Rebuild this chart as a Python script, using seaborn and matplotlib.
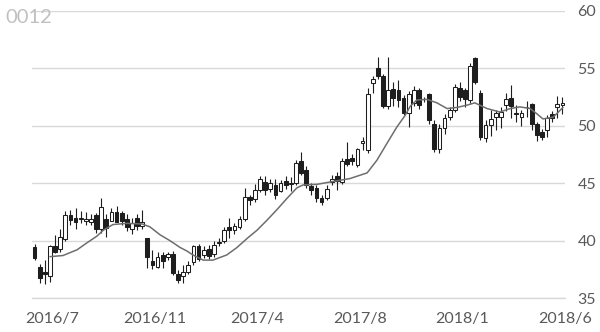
import matplotlib
matplotlib.use("Agg")
import matplotlib.pyplot as plt
import seaborn as sns
import pandas as pd
import numpy as np

title = "0012"
date_labels = ["2016/7", "2016/11", "2017/4", "2017/8", "2018/1", "2018/6"]
y_ticks = [35, 40, 45, 50, 55, 60]

opens = [39.4, 37.7, 37.3, 36.9, 39.5, 39.3, 40.1, 42.2, 42.0, 41.9,
         41.7, 41.6, 42.2, 41.0, 41.9, 41.7, 42.5, 42.4, 41.9, 41.0,
         42.0, 41.3, 40.2, 38.2, 37.7, 38.75, 38.6, 38.8, 37.1, 36.9,
         37.3, 38.1, 39.5, 38.75, 39.3, 38.8, 39.8, 40.0, 41.2, 40.9,
         41.2, 41.9, 43.8, 43.6, 44.4, 45.1, 44.5, 44.85, 44.35, 45.2,
         44.9, 45.0, 46.9, 46.15, 44.75, 44.55, 43.7, 43.7, 45.1, 45.6,
         45.1, 47.1, 47.2, 46.6, 48.5, 47.9, 53.7, 55.0, 54.3, 51.7,
         53.2, 53.1, 52.4, 51.1, 52.0, 53.1, 52.3, 52.8, 50.2, 48.0,
         49.8, 50.8, 51.4, 53.3, 53.1, 52.25, 55.9, 52.9, 48.9, 50.1,
         50.8, 50.8, 51.8, 52.4, 51.1, 50.8, 51.65, 51.9, 50.2, 49.5,
         49.6, 51.0, 51.6, 51.8]
closes = [38.5, 36.7, 37.1, 39.5, 39.0, 40.3, 42.2, 41.8, 41.6, 42.0,
          41.9, 41.9, 41.0, 42.9, 41.1, 42.5, 41.65, 41.7, 41.2, 41.5,
          41.3, 41.6, 38.6, 37.9, 38.6, 38.25, 38.8, 37.2, 36.6, 37.3,
          37.9, 39.5, 38.4, 39.2, 38.7, 39.6, 39.85, 40.9, 40.9, 41.3,
          41.9, 43.8, 43.5, 44.4, 45.4, 44.4, 45.0, 44.0, 45.05, 44.8,
          45.0, 46.8, 45.9, 44.85, 44.4, 43.7, 43.4, 44.5, 45.4, 45.2,
          46.9, 46.7, 46.9, 47.95, 48.7, 52.8, 54.1, 54.3, 51.7, 53.1,
          52.4, 52.25, 51.1, 52.8, 53.1, 51.8, 52.3, 50.5, 48.0, 49.8,
          50.65, 51.4, 53.4, 52.5, 52.3, 55.2, 53.8, 49.0, 50.05, 50.6,
          51.1, 51.2, 52.3, 51.7, 51.0, 51.1, 51.6, 50.2, 49.2, 49.05,
          50.65, 50.65, 51.9, 52.0]
highs = [39.7, 38.0, 38.3, 39.6, 40.5, 41.0, 42.6, 42.7, 42.8, 42.6,
         42.5, 42.3, 42.4, 43.7, 42.3, 42.8, 43.0, 42.6, 42.3, 42.0,
         42.3, 42.7, 40.2, 39.2, 39.0, 39.0, 39.0, 39.1, 37.4, 37.9,
         38.2, 39.6, 39.7, 39.5, 39.6, 40.0, 40.2, 41.2, 42.0, 41.5,
         42.1, 44.6, 44.0, 44.9, 45.6, 45.6, 45.4, 45.4, 45.3, 45.6,
         45.5, 47.0, 47.7, 46.5, 45.0, 44.8, 44.0, 44.8, 45.7, 46.0,
         47.2, 48.6, 47.5, 48.1, 49.0, 53.3, 54.3, 56.0, 54.5, 56.0,
         53.8, 54.0, 52.7, 53.0, 53.5, 53.3, 52.5, 52.9, 50.5, 50.2,
         51.0, 51.6, 53.6, 53.8, 53.3, 55.5, 56.0, 53.1, 50.5, 51.4,
         51.4, 51.6, 52.9, 53.55, 51.8, 51.4, 52.2, 52.0, 50.3, 49.7,
         50.9, 51.3, 52.6, 52.5]
lows = [38.3, 36.3, 36.2, 36.4, 38.9, 39.0, 40.0, 41.4, 41.0, 41.5,
        41.4, 41.4, 40.7, 40.7, 40.3, 41.9, 41.6, 41.4, 40.8, 40.6,
        40.9, 41.0, 37.6, 37.5, 37.6, 37.6, 38.3, 37.0, 36.3, 36.3,
        37.1, 37.9, 38.2, 38.5, 38.4, 38.6, 39.5, 39.8, 40.2, 40.6,
        41.0, 41.7, 43.1, 43.4, 44.2, 44.0, 44.2, 43.6, 44.2, 44.5,
        44.3, 44.8, 45.7, 44.6, 44.0, 43.4, 43.1, 43.5, 44.8, 44.4,
        44.9, 46.5, 46.6, 46.4, 47.9, 47.6, 52.9, 54.1, 51.55, 51.5,
        51.7, 51.6, 50.9, 49.9, 51.7, 51.5, 52.1, 50.2, 47.7, 47.6,
        49.3, 50.5, 51.2, 52.2, 51.6, 52.0, 53.6, 48.8, 48.6, 49.1,
        49.6, 49.8, 51.3, 50.7, 50.3, 50.0, 50.8, 49.6, 48.7, 48.8,
        49.0, 50.3, 50.7, 51.0]

# moving-average line (position in weeks, price)
ma_x = [3.0, 5.55, 8.3, 10.2, 12.2, 13.4, 15.3, 18.0, 21.0, 22.5, 24.5, 26.4,
        28.4, 29.7, 30.9, 32.9, 34.8, 37.5, 39.5, 41.5, 43.4, 45.4, 47.3, 49.3,
        51.2, 52.4, 55.1, 57.6, 60.2, 61.5, 64.9, 66.8, 68.8, 70.7, 72.3, 73.3,
        74.6, 76.6, 78.5, 80.5, 82.4, 84.4, 85.9, 88.3, 90.8, 92.8, 94.7, 96.7,
        98.0, 99.2, 101.2, 103.1]
ma_v = [38.6, 38.7, 39.2, 39.8, 40.4, 40.9, 41.4, 41.5, 41.45, 41.2, 40.5, 40.0,
        39.4, 39.1, 38.75, 38.3, 38.3, 38.75, 39.4, 40.2, 40.9, 41.8, 42.7, 43.7,
        44.6, 44.85, 44.9, 45.1, 45.3, 45.4, 45.9, 47.0, 48.5, 49.9, 50.9, 51.7,
        52.25, 52.3, 52.0, 51.5, 51.6, 51.8, 52.0, 51.5, 51.2, 51.5, 51.65, 51.5,
        51.05, 50.6, 50.75, 51.6]

sns.set_theme(style="white")
plt.rcParams['font.family'] = ['Lato', 'DejaVu Sans']

df = pd.DataFrame({"open": opens, "high": highs, "low": lows, "close": closes})
df["x"] = np.arange(len(df))
n = len(df)
up = df["close"] >= df["open"]
body_lo = np.minimum(df["open"], df["close"])
body_h = np.maximum(np.abs(df["close"] - df["open"]), 0.06)

fig = plt.figure(figsize=(6, 3.32), dpi=100)
ax = fig.add_axes([32 / 600, 34 / 332, 533 / 600, 287 / 332])

ink = "#1e1e1e"
ax.vlines(df["x"], df["low"], df["high"], color=ink, linewidth=0.8, zorder=3)
ax.bar(df["x"], body_h, bottom=body_lo, width=0.72,
       color=np.where(up, "white", ink), edgecolor=ink, linewidth=0.75, zorder=4)
sns.lineplot(x=ma_x, y=ma_v, ax=ax, color="#6e6e6e", linewidth=1.1, zorder=5)

ax.set_xlim(-0.5, n - 0.5)
ax.set_ylim(35, 60)
ax.set_yticks(y_ticks)
ax.grid(axis="y", color="#d9d9d9", linewidth=1.0, zorder=0)
ax.grid(axis="x", visible=False)
ax.yaxis.tick_right()
ax.tick_params(axis="y", length=0, pad=9, labelsize=11.5, labelcolor="#595959")

label_pos = [3.5 + 20 * k for k in range(len(date_labels))]
ax.set_xticks(label_pos)
ax.set_xticklabels(date_labels)
ax.set_xticks([3.5 + 5 * k for k in range(21)], minor=True)
ax.tick_params(axis="x", which="both", direction="out", length=4, width=0.8,
               color="#bfbfbf", pad=6, labelsize=11.5, labelcolor="#595959")
for s in ["top", "left", "right"]:
    ax.spines[s].set_visible(False)
ax.spines["bottom"].set_color("#d9d9d9")
ax.spines["bottom"].set_linewidth(1.0)
ax.set_xlabel("")
ax.set_ylabel("")

fig.text(5 / 600, 1 - 9 / 332, title, ha="left", va="top", fontsize=14.5, color="#c0c0c0")

fig.savefig("out.png", dpi=100)
